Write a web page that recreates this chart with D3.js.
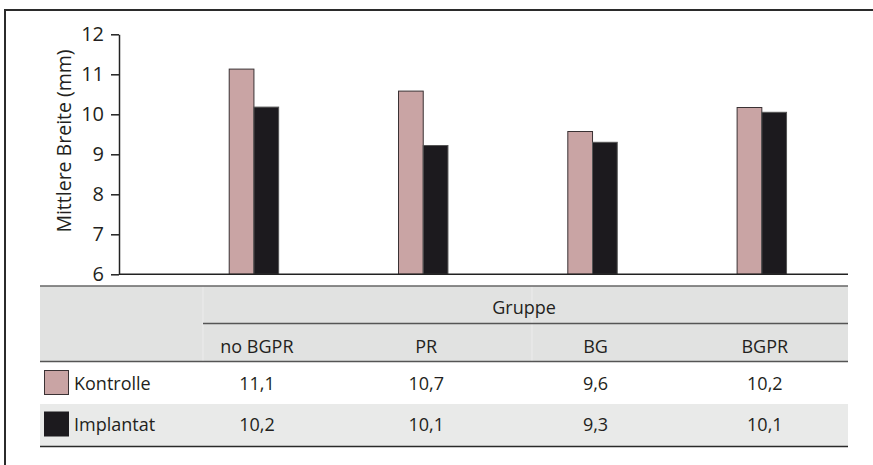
<!DOCTYPE html>
<html>
<head>
<meta charset="utf-8">
<script src="https://cdn.jsdelivr.net/npm/d3@7"></script>
<style>
  html, body { margin: 0; padding: 0; background: #fff; }
  svg { display: block; font-family: "Open Sans", Lato, sans-serif; }
</style>
</head>
<body>
<svg id="chart" width="873" height="465"></svg>
<script>
// ---- data ----
const groups = ["no BGPR", "PR", "BG", "BGPR"];
const seriesNames = ["Kontrolle", "Implantat"];
const kontrolleValues = [11.13, 10.58, 9.57, 10.17];
const implantatValues = [10.18, 9.22, 9.30, 10.05];
const kontrolleLabels = ["11,1", "10,7", "9,6", "10,2"];
const implantatLabels = ["10,2", "10,1", "9,3", "10,1"];
const yTicks = [6, 7, 8, 9, 10, 11, 12];
const yTitle = "Mittlere Breite (mm)";
const tableTitle = "Gruppe";

const colors = { Kontrolle: "#c9a4a4", Implantat: "#1c1a1e" };
const valuesBySeries = { Kontrolle: kontrolleValues, Implantat: implantatValues };
const labelsBySeries = { Kontrolle: kontrolleLabels, Implantat: implantatLabels };

const svg = d3.select("#chart");
const textColor = "#231f20";
const font = "'Open Sans', Lato, sans-serif";

// outer frame (left + top only visible)
svg.append("path")
  .attr("d", "M5,470 L5,10 L880,10")
  .attr("fill", "none").attr("stroke", "#2b2b2b").attr("stroke-width", 2);

// ---- scales ----
const axisLeftX = 119, axisRightX = 848;
const y = d3.scaleLinear().domain([6, 12]).range([274.3, 34.3]);
const x0 = d3.scaleBand().domain(groups).range([axisLeftX, axisRightX])
  .paddingInner(0.708).paddingOuter(0.507).align(0.642);
const x1 = d3.scaleBand().domain(seriesNames).range([0, x0.bandwidth()]).padding(0);

// ---- y axis ----
const yAxis = d3.axisLeft(y).tickValues(yTicks).tickSize(8).tickSizeOuter(0).tickPadding(7)
  .tickFormat(d3.format("d"));
const gy = svg.append("g").attr("transform", `translate(${axisLeftX},0)`).call(yAxis);
gy.select(".domain").attr("stroke", "#222").attr("stroke-width", 1.5);
gy.selectAll(".tick line").attr("stroke", "#222").attr("stroke-width", 1.5);
gy.selectAll(".tick text").attr("font-size", 20).attr("fill", textColor)
  .attr("font-family", font);

svg.append("text")
  .attr("transform", `translate(70.5,141) rotate(-90)`)
  .attr("text-anchor", "middle")
  .attr("font-size", 19.5).attr("fill", textColor)
  .text(yTitle);

// ---- bars ----
const barData = [];
groups.forEach((g, i) => seriesNames.forEach(s => barData.push({ group: g, series: s, value: valuesBySeries[s][i] })));

svg.append("g").selectAll("rect").data(barData).join("rect")
  .attr("x", d => x0(d.group) + x1(d.series))
  .attr("y", d => y(d.value))
  .attr("width", x1.bandwidth())
  .attr("height", d => y(6) - y(d.value))
  .attr("fill", d => colors[d.series])
  .attr("stroke", d => d.series === "Kontrolle" ? "#3a3234" : "#555")
  .attr("stroke-width", 1);

// x baseline
svg.append("line")
  .attr("x1", axisLeftX).attr("x2", axisRightX)
  .attr("y1", y(6)).attr("y2", y(6))
  .attr("stroke", "#222").attr("stroke-width", 1.5);

// ---- table ----
const tL = 40, tR = 848, labelColR = 203;
const colX = g => x0(g) + x0.bandwidth() / 2 + 3;
const fs = 18;

const tbl = svg.append("g");
tbl.append("rect").attr("x", tL).attr("y", 286).attr("width", tR - tL).attr("height", 75.5).attr("fill", "#e1e2e1");
tbl.append("rect").attr("x", tL).attr("y", 404).attr("width", tR - tL).attr("height", 42.5).attr("fill", "#e9eae9");

// faint cell separators in header
[labelColR, 532].forEach(xx => {
  tbl.append("line").attr("x1", xx).attr("x2", xx).attr("y1", 286).attr("y2", 361)
    .attr("stroke", "#ececec").attr("stroke-width", 1);
});

tbl.append("line").attr("x1", tL).attr("x2", tR).attr("y1", 286).attr("y2", 286)
  .attr("stroke", "#666").attr("stroke-width", 1.5);
tbl.append("line").attr("x1", labelColR).attr("x2", tR).attr("y1", 323.5).attr("y2", 323.5)
  .attr("stroke", "#555").attr("stroke-width", 1.5);
tbl.append("line").attr("x1", tL).attr("x2", tR).attr("y1", 361.5).attr("y2", 361.5)
  .attr("stroke", "#555").attr("stroke-width", 1.5);
tbl.append("line").attr("x1", tL).attr("x2", tR).attr("y1", 446.5).attr("y2", 446.5)
  .attr("stroke", "#2a2a2a").attr("stroke-width", 1.5);

tbl.append("text").attr("x", 524).attr("y", 313.5).attr("text-anchor", "middle")
  .attr("font-size", fs).attr("fill", textColor).text(tableTitle);

tbl.selectAll("text.colhead").data(groups).join("text").attr("class", "colhead")
  .attr("x", d => colX(d)).attr("y", 352.5).attr("text-anchor", "middle")
  .attr("font-size", fs).attr("fill", textColor).text(d => d);

const rowY = { Kontrolle: 383, Implantat: 424.5 };
seriesNames.forEach(s => {
  tbl.append("rect").attr("x", 44.5).attr("y", rowY[s] - 12.5).attr("width", 24).attr("height", 24)
    .attr("fill", colors[s]).attr("stroke", s === "Kontrolle" ? "#3a3234" : "#1c1a1e").attr("stroke-width", 1);
  tbl.append("text").attr("x", 74).attr("y", rowY[s] + 6.5).attr("font-size", fs)
    .attr("fill", textColor).text(s);
  tbl.selectAll(null).data(groups).join("text")
    .attr("x", d => colX(d)).attr("y", rowY[s] + 6.5).attr("text-anchor", "middle")
    .attr("font-size", fs).attr("fill", textColor)
    .text((d, i) => labelsBySeries[s][i]);
});
</script>
</body>
</html>
